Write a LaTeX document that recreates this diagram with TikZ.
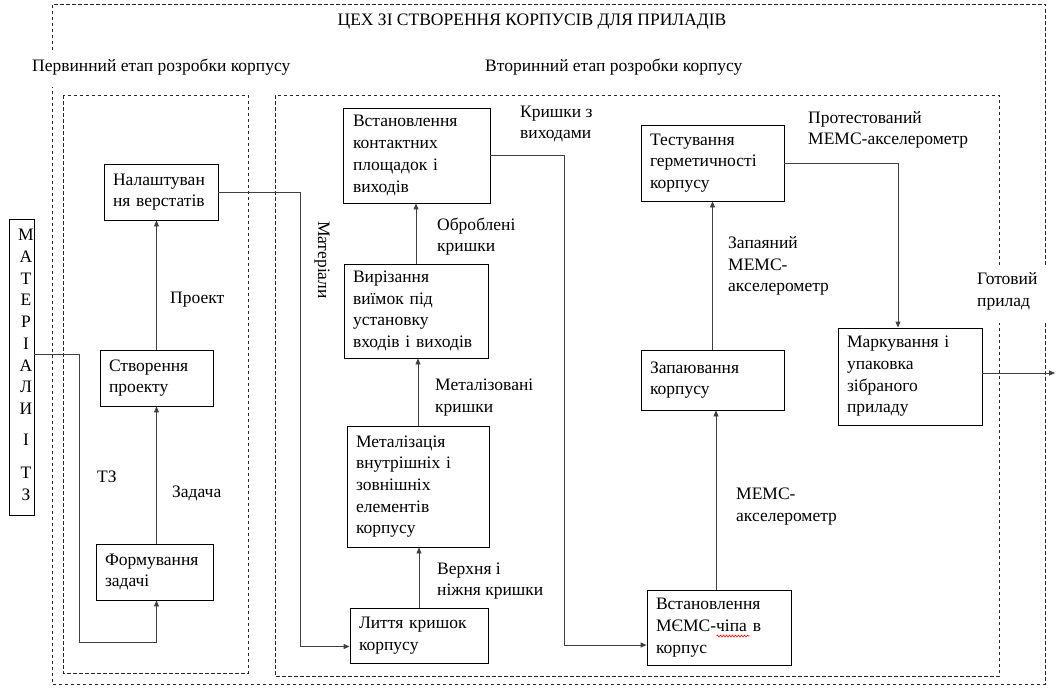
\documentclass[tikz,border=0pt]{standalone}
\usepackage{fontspec}
\setmainfont{Liberation Serif}
\usetikzlibrary{arrows.meta,calc,decorations.pathmorphing}
\newcommand\diagfont{\fontsize{17.5}{21.7}\selectfont}

\begin{document}
\begin{tikzpicture}[x=1pt,y=-1pt,
  every node/.style={font=\diagfont},
  stage/.style={draw,rectangle,line width=0.9pt,inner xsep=9pt,inner ysep=0pt,align=left},
  frame/.style={black!85,line width=0.8pt,dash pattern=on 3.5pt off 2.5pt},
  link/.style={black!75,line width=0.9pt},
  arr/.style={link,-{Triangle[length=6pt,width=5pt]}},
  lbl/.style={inner sep=0pt,align=left,anchor=west}]

\useasboundingbox (0,0) rectangle (1056,688);

% workshop frame and the two stage frames
\draw[frame] (52,50) -- (52,4) -- (1045,4) -- (1045,265);
\draw[frame] (1045,323) -- (1045,684) -- (52,684) -- (52,87);
\draw[frame] (63,95) rectangle (248,673);
\draw[frame] (999,265) -- (999,95) -- (275,95) -- (275,676) -- (999,676) -- (999,323);

\node[inner sep=0pt] (title) at (532,22) {ЦЕХ ЗІ СТВОРЕННЯ КОРПУСІВ ДЛЯ ПРИЛАДІВ};
\node[lbl] (first) at (32,67) {Первинний етап розробки корпусу};
\node[lbl] (second) at (485,67) {Вторинний етап розробки корпусу};

% inputs
\node[draw,line width=0.9pt,minimum width=25pt,minimum height=296pt,inner sep=0pt] (mat) at (21.5,367) {};
\node[inner sep=0pt,align=center] (matlbl) at (26,365)
  {М\\А\\Т\\Е\\Р\\І\\А\\Л\\И\\[9pt]І\\[12pt]Т\\З};

% primary stage
\node[stage,minimum width=117pt,text width=99pt,minimum height=56pt] (form) at (154.5,572) {Формування\\задачі};
\node[stage,minimum width=113pt,text width=95pt,minimum height=56pt] (stv) at (156.5,378) {Створення\\проекту};
\node[stage,minimum width=114pt,text width=96pt,minimum height=56pt] (nal) at (161,192) {Налаштуван\\ня верстатів};

% secondary stage
\node[stage,minimum width=147pt,text width=127pt,minimum height=95pt] (vst) at (416.5,155.5) {Встановлення\\контактних\\площадок і\\виходів};
\node[stage,minimum width=144pt,text width=126pt,minimum height=94pt] (vir) at (416,311) {\raisebox{-3pt}{\parbox{126pt}{Вирізання\\виїмок під\\установку\\входів і виходів}}};
\node[stage,minimum width=142pt,text width=124pt,minimum height=121pt] (met) at (418,486.5) {Металізація\\внутрішніх і\\зовнішніх\\елементів\\корпусу};
\node[stage,minimum width=138pt,text width=120pt,minimum height=55pt] (lit) at (419,635.5) {Лиття кришок\\корпусу};

\node[stage,minimum width=143pt,text width=125pt,minimum height=76pt] (tst) at (712.5,163) {Тестування\\герметичності\\корпусу};
\node[stage,minimum width=143pt,text width=125pt,minimum height=60pt] (zap) at (712.5,380) {Запаювання\\корпусу};
\node[stage,minimum width=144pt,text width=126pt,minimum height=75pt] (chip) at (719,627.5) {Встановлення\\МЄМС-чіпа в\\корпус};
\node[stage,minimum width=144pt,text width=126pt,minimum height=97pt] (mark) at (910,376.5) {Маркування і\\упаковка\\зібраного\\приладу};

% spell-check underline under the chip word
\draw[red,line width=0.6pt,decorate,decoration={snake,amplitude=0.9pt,segment length=3pt}]
  ($(chip.west)+(70,8.5)$) -- ($(chip.west)+(103,8.5)$);

\coordinate (out) at (1055,373);

% flow labels
\node[lbl] (l1) at (170,300) {Проект};
\node[lbl] (l2) at (172,493) {Задача};
\node[lbl] (l3) at (97,477) {ТЗ};
\node[inner sep=0pt,rotate=-90] (l4) at (322,260) {Матеріали};
\node[lbl] (l5) at (520,124) {Кришки з\\виходами};
\node[lbl] (l6) at (437,236.5) {Оброблені\\кришки};
\node[lbl] (l7) at (435,397.5) {Металізовані\\кришки};
\node[lbl] (l8) at (437,581) {Верхня і\\ніжня кришки};
\node[lbl] (l9) at (808,130) {Протестований\\МЕМС-акселерометр};
\node[lbl] (l10) at (728,266) {Запаяний\\МЕМС-\\акселерометр};
\node[lbl] (l11) at (736,506.5) {МЕМС-\\акселерометр};
\node[lbl] (l12) at (977,291.5) {Готовий\\прилад};

% connectors
\draw[arr] ([yshift=13pt]mat.east) -- ++(45,0) |- ($(stv.south |- form.south)+(0,42)$) -- (stv.south |- form.south);
\draw[arr] (stv.south |- form.north) -- (stv.south);
\draw[arr] (stv.north) -- (stv.north |- nal.south);
\draw[arr] (nal.east) -- ++(82,0) |- ([yshift=-11pt]lit.west);
\draw[arr] (lit.north) -- (lit.north |- met.south);
\draw[arr] (met.north) -- (met.north |- vir.south);
\draw[arr] (vir.north) -- (vir.north |- vst.south);
\draw[arr] (vst.east) -- ++(74,0) |- ([yshift=-17.5pt]chip.west);
\draw[arr] ([xshift=-3pt]chip.north) -- ([xshift=-3pt]chip.north |- zap.south);
\draw[arr] (zap.north) -- (zap.north |- tst.south);
\draw[arr] (tst.east) -| ([xshift=-12pt]mark.north);
\draw[arr] ([yshift=3.5pt]mark.east) -- (out);

\end{tikzpicture}
\end{document}
